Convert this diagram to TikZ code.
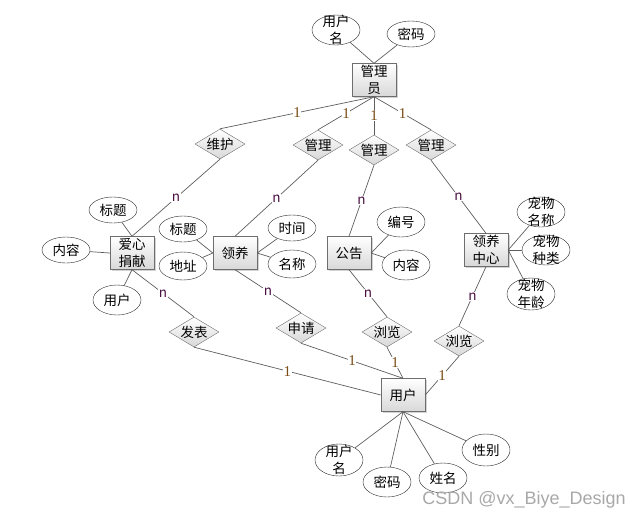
\documentclass[tikz,border=0pt]{standalone}
\usepackage{fontspec}
\setmainfont{Noto Sans CJK SC}
\newfontfamily\numfont{Liberation Serif}
\newfontfamily\markfont{Liberation Sans}
\usetikzlibrary{shapes.geometric,shadows}
\definecolor{edgegray}{HTML}{5E5E5E}
\definecolor{boxline}{HTML}{6E6E6E}
\definecolor{boxshade}{HTML}{D8D8D8}
\definecolor{onecolor}{HTML}{7A4B12}
\definecolor{manycolor}{HTML}{4A1042}
\definecolor{marktext}{HTML}{A8A8A8}
\begin{document}
\begin{tikzpicture}[
    x=1pt, y=-1pt,
    font=\fontsize{13.5}{17}\selectfont,
    entity/.style={draw=boxline, top color=white, bottom color=boxshade, minimum width=44pt, minimum height=33pt, inner sep=1pt, align=center, drop shadow={shadow xshift=1.5pt, shadow yshift=-1.5pt, opacity=0.35}},
    relation/.style={diamond, aspect=1.65, draw=boxline, top color=white, bottom color=boxshade, minimum width=50pt, minimum height=30pt, inner sep=0pt},
    attr/.style={ellipse, draw=black!85, minimum width=48pt, minimum height=28pt, inner sep=0pt},
    attrtwo/.style={attr, label={[align=center, inner sep=0pt]center:#1}},
    link/.style={draw=edgegray, line width=0.7pt},
    one/.style={fill=white, inner sep=0.5pt, text=onecolor, font=\numfont\fontsize{15}{15}\selectfont},
    many/.style={fill=white, inner sep=0.5pt, text=manycolor, font=\fontsize{13.5}{13.5}\selectfont}
]
  \useasboundingbox (0,0) rectangle (642,520);

  % entities
  \node[entity] (admin) at (374,80) {管理\\员};
  \node[entity] (donate) at (132,253) {爱心\\捐献};
  \node[entity] (adopt) at (235,253) {领养};
  \node[entity] (notice) at (349,253) {公告};
  \node[entity] (center) at (486,250) {领养\\中心};
  \node[entity] (user) at (403,395) {用户};

  % relations
  \node[relation] (keep) at (220,144) {维护};
  \node[relation] (mgrA) at (318,145) {管理};
  \node[relation] (mgrB) at (374,150) {管理};
  \node[relation] (mgrC) at (431,145) {管理};
  \node[relation] (post) at (194,332) {发表};
  \node[relation] (apply) at (301,328) {申请};
  \node[relation] (viewA) at (387,332) {浏览};
  \node[relation] (viewB) at (459,341) {浏览};

  % attributes
  \node[attrtwo={用户\\名}, minimum height=30pt] (adminName) at (336,30) {};
  \node[attr, minimum height=26pt] (adminPwd) at (411,34) {密码};
  \node[attr, minimum height=26pt] (donTitle) at (113,210) {标题};
  \node[attr, minimum height=26pt] (donText) at (66,250) {内容};
  \node[attr, minimum height=30pt] (donUser) at (117,300) {用户};
  \node[attr, minimum height=26pt] (adpTitle) at (183,229) {标题};
  \node[attr] (adpAddr) at (183,266) {地址};
  \node[attr, minimum height=26pt] (adpTime) at (292,228) {时间};
  \node[attr] (adpName) at (292,264) {名称};
  \node[attr, minimum height=30pt] (ntcNo) at (401,222) {编号};
  \node[attr, minimum height=30pt] (ntcText) at (406,265) {内容};
  \node[attrtwo={宠物\\名称}, minimum height=30pt] (petName) at (541,212) {};
  \node[attrtwo={宠物\\种类}, minimum height=30pt] (petKind) at (546,250) {};
  \node[attrtwo={宠物\\年龄}, minimum height=32pt] (petAge) at (531,294) {};
  \node[attrtwo={用户\\名}, minimum height=32pt] (userName) at (339,460) {};
  \node[attr, minimum height=30pt] (userPwd) at (387,482) {密码};
  \node[attr, minimum height=30pt] (userReal) at (443,478) {姓名};
  \node[attr, minimum height=32pt] (userSex) at (486,450) {性别};

  % attribute links
  \draw[link] (admin.north) -- (adminName);
  \draw[link] (admin.north) -- (adminPwd);
  \draw[link] (donate.north) -- (donTitle);
  \draw[link] (donate.west) -- (donText);
  \draw[link] (donate.south) -- (donUser);
  \draw[link] (adopt.west) -- (adpTitle);
  \draw[link] (adopt.west) -- (adpAddr);
  \draw[link] (adopt.east) -- (adpTime);
  \draw[link] (adopt.east) -- (adpName);
  \draw[link] (notice.east) -- (ntcNo);
  \draw[link] (notice.east) -- (ntcText);
  \draw[link] (center.east) -- (petName);
  \draw[link] (center.east) -- (petKind);
  \draw[link] (center.east) -- (petAge);
  \draw[link] (user.south) -- (userName);
  \draw[link] (user.south) -- (userPwd);
  \draw[link] (user.south) -- (userReal);
  \draw[link] (user.south) -- (userSex);

  % relation links
  \draw[link] (admin.south) -- node[one] {1} (keep.north);
  \draw[link] (admin.south) -- node[one] {1} (mgrA.north);
  \draw[link] (admin.south) -- node[one] {1} (mgrB.north);
  \draw[link] (admin.south) -- node[one] {1} (mgrC.north);
  \draw[link] (keep.south) -- node[many] {n} (donate.north);
  \draw[link] (mgrA.south) -- node[many] {n} (adopt.north);
  \draw[link] (mgrB.south) -- node[many] {n} (notice.north);
  \draw[link] (mgrC.south) -- node[many] {n} (center.north);
  \draw[link] (donate.south) -- node[many] {n} (post.north);
  \draw[link] (adopt.south) -- node[many] {n} (apply.north);
  \draw[link] (notice.south) -- node[many] {n} (viewA.north);
  \draw[link] (center.south) -- node[many] {n} (viewB.north);
  \draw[link] (post.south) -- node[one] {1} (user.west);
  \draw[link] (apply.south) -- node[one] {1} (user.north);
  \draw[link] (viewA.south) -- node[one] {1} (user.north);
  \draw[link] (viewB.south) -- node[one] {1} (user.east);

  \node[text=marktext, font=\markfont\fontsize{18}{18}\selectfont] (mark) at (524,500) {CSDN @vx\_Biye\_Design};
\end{tikzpicture}
\end{document}
